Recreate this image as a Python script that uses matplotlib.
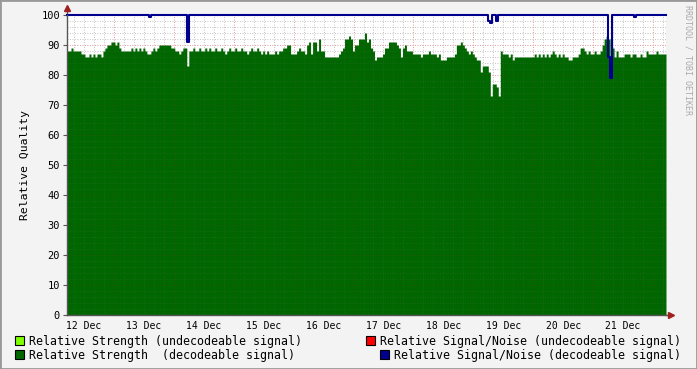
import numpy as np
import matplotlib.pyplot as plt
from matplotlib.patches import Rectangle

# time axis in days since 12 Dec 00:00, one sample every 48 minutes
t_start = 13 / 60
t_step = 2 / 60

day_labels = ["12 Dec", "13 Dec", "14 Dec", "15 Dec", "16 Dec",
              "17 Dec", "18 Dec", "19 Dec", "20 Dec", "21 Dec"]

# relative strength, decodeable signal (%)
strength = [
    88, 88, 89, 88, 88, 88, 88, 87, 87, 86, 86, 87, 86, 87, 86, 87, 87, 86, 88, 89,
    90, 90, 91, 91, 90, 91, 89, 88, 88, 88, 88, 88, 89, 88, 89, 88, 89, 88, 89, 88,
    87, 87, 88, 89, 88, 89, 90, 90, 90, 90, 90, 90, 89, 89, 88, 88, 87, 88, 89, 89,
    83, 88, 88, 89, 88, 88, 89, 88, 88, 89, 88, 89, 88, 88, 89, 88, 88, 89, 88, 87,
    88, 89, 88, 88, 89, 88, 88, 89, 88, 88, 87, 88, 89, 88, 88, 89, 88, 87, 88, 87,
    88, 87, 87, 87, 88, 87, 88, 88, 89, 89, 90, 90, 87, 87, 87, 88, 89, 88, 88, 87,
    90, 91, 87, 91, 91, 88, 92, 88, 88, 86, 86, 86, 86, 86, 86, 86, 87, 88, 89, 92,
    92, 93, 92, 88, 90, 90, 92, 92, 92, 94, 91, 92, 89, 88, 85, 86, 86, 86, 87, 89,
    89, 91, 91, 91, 91, 90, 89, 86, 89, 90, 88, 88, 88, 87, 87, 87, 87, 86, 87, 87,
    87, 88, 87, 87, 87, 86, 87, 85, 85, 85, 86, 86, 86, 86, 87, 90, 90, 91, 90, 89,
    88, 87, 88, 87, 86, 85, 85, 81, 83, 83, 83, 81, 73, 77, 77, 76, 73, 88, 87, 87,
    87, 86, 87, 85, 86, 86, 86, 86, 86, 86, 86, 86, 86, 86, 87, 86, 87, 86, 87, 86,
    87, 86, 87, 88, 87, 86, 87, 86, 87, 86, 86, 85, 85, 86, 86, 86, 87, 89, 89, 88,
    87, 88, 87, 87, 88, 87, 87, 88, 90, 92, 93, 92, 86, 89, 86, 88, 86, 86, 86, 87,
    87, 87, 86, 87, 87, 86, 86, 87, 86, 86, 88, 87, 87, 87, 87, 88, 87, 87, 87, 87,
]

# relative signal/noise, decodeable signal: 100 except these dips (sample, value)
snr_level = 100
snr_dips = [(41, 99.5), (60, 91), (211, 98), (212, 97.5), (215, 98),
            (271, 86), (272, 79), (284, 99.5)]

green = "#006600"
blue = "#000090"
light_green = "#80FF00"
red = "#FF0000"

W, H = 697, 369
fig = plt.figure(figsize=(W / 100, H / 100), dpi=100, facecolor="#F3F3F3")
plt.rcParams['font.family'] = ['DejaVu Sans Mono']

L, R, T, B = 67, 666, 15, 315
ax = fig.add_axes([L / W, 1 - B / H, (R - L) / W, (B - T) / H])
ax.set_facecolor("white")

n = len(strength)
t = t_start + t_step * np.arange(n + 1)
s = np.append(strength, strength[-1])
ax.fill_between(t, 0, s, step="post", color=green, linewidth=0, zorder=2)

snr = np.full(n, float(snr_level))
for i, v in snr_dips:
    snr[i] = v
snr = np.append(snr, snr[-1])
ax.step(t, snr, where="post", color=blue, linewidth=1.5, zorder=4, clip_on=False)

t_end = t_start + t_step * n
ax.set_xlim(t_start, t_end)
ax.set_ylim(0, 100)

# grid like rrdtool: minor grey dots, major reddish dots
# drawn once under the area (clear on white) and once faintly over it
minor_x = [x for x in np.arange(1 / 6, 11, 1 / 6)
           if t_start < x < t_end and abs(x - round(x)) > 1e-6]
minor_y = [y for y in range(2, 100, 2) if y % 10]
major_x = list(range(1, 11))
major_y = list(range(10, 100, 10))
for z, a in [(1, 1.0), (3, 0.25)]:
    minor_style = dict(color="#C8C8C8" if z == 1 else "#808080", lw=0.6,
                       ls=(0, (1, 2)), alpha=a, zorder=z)
    major_style = dict(color="#E8A0A0" if z == 1 else "#C02020", lw=0.6,
                       ls=(0, (1, 2)), alpha=a, zorder=z)
    for x in minor_x:
        ax.axvline(x, **minor_style)
    for y in minor_y:
        ax.axhline(y, **minor_style)
    for x in major_x:
        ax.axvline(x, **major_style)
    for y in major_y:
        ax.axhline(y, **major_style)

for side in ["top", "right"]:
    ax.spines[side].set_visible(False)
for side in ["left", "bottom"]:
    ax.spines[side].set_color("#555555")
    ax.spines[side].set_linewidth(1)
    ax.spines[side].set_zorder(5)

ax.set_xticks(np.arange(len(day_labels)) + 0.5)
ax.set_xticklabels(day_labels, fontsize=7)
ax.set_yticks(range(0, 101, 10))
ax.set_yticklabels([str(v) for v in range(0, 101, 10)], fontsize=7.5)
ax.tick_params(axis="x", length=0, pad=4)
ax.tick_params(axis="y", length=3, width=0.8, color="#555555", pad=2)
ax.set_ylabel("Relative Quality", fontsize=8.2, labelpad=8)

# axis arrows
ax.plot([0], [1.025], marker="^", color="#A02020", ms=4, transform=ax.transAxes, clip_on=False, zorder=6)
ax.plot([1.008], [0], marker=">", color="#A02020", ms=4, transform=ax.transAxes, clip_on=False, zorder=6)
ax.plot([0, 0], [1, 1.02], color="#555555", lw=1, transform=ax.transAxes, clip_on=False)
ax.plot([1, 1.006], [0, 0], color="#555555", lw=1, transform=ax.transAxes, clip_on=False)

fig.text(688 / W, 1 - 60 / H, "RRDTOOL / TOBI OETIKER", rotation=270, fontsize=6,
         color="#AAAAAA", ha="center", va="center")

# legend
legend_rows = [
    (15, 341, light_green, "Relative Strength (undecodeable signal)"),
    (15, 355, green, "Relative Strength  (decodeable signal)"),
    (366, 341, red, "Relative Signal/Noise (undecodeable signal)"),
    (380, 355, blue, "Relative Signal/Noise (decodeable signal)"),
]
for x, y, c, label in legend_rows:
    fig.patches.append(Rectangle((x / W, 1 - (y + 4) / H), 9 / W, 9 / H, facecolor=c,
                                 edgecolor="black", lw=0.8, transform=fig.transFigure))
    fig.text((x + 14) / W, 1 - y / H, label, fontsize=8.35, ha="left", va="center")

# frame
fig.patches.append(Rectangle((0, 0), 1, 1, fill=False, edgecolor="#999999", lw=2,
                             transform=fig.transFigure))

fig.savefig("out.png", dpi=100, facecolor=fig.get_facecolor())
